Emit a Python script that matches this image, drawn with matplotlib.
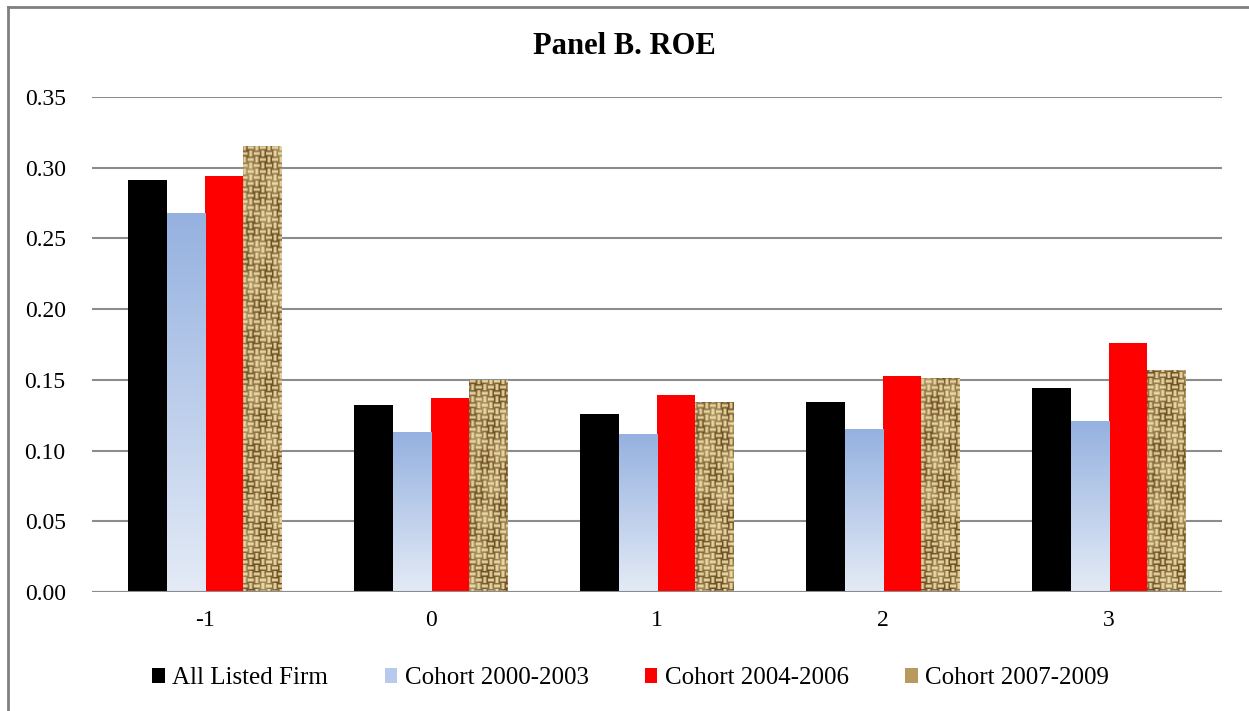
import numpy as np
import matplotlib
matplotlib.use('Agg')
import matplotlib.pyplot as plt
from matplotlib.patches import Patch
from matplotlib.lines import Line2D

# ROE by event year for each group
years = ['-1', '0', '1', '2', '3']
all_listed = [0.291, 0.132, 0.126, 0.134, 0.144]
cohort_00_03 = [0.268, 0.113, 0.112, 0.115, 0.121]
cohort_04_06 = [0.294, 0.137, 0.139, 0.153, 0.176]
cohort_07_09 = [0.315, 0.150, 0.134, 0.151, 0.157]
labels = ['All Listed Firm', 'Cohort 2000-2003', 'Cohort 2004-2006', 'Cohort 2007-2009']

plt.rcParams['font.family'] = 'Liberation Serif'

fig = plt.figure(figsize=(12.49, 7.11), dpi=100)
ax = fig.add_axes([0.0737, 0.1674, 0.9047, 0.6962])

x = np.arange(len(years))
w = 0.17
ymax = 0.35

# black and red bars are plain fills
ax.bar(x - 1.5 * w, all_listed, w, color='black', zorder=3)
ax.bar(x + 0.5 * w, cohort_04_06, w, color='#FF0000', zorder=3)

# blue bars: gradient from mid blue at the top to pale at the base
blue_bars = ax.bar(x - 0.5 * w, cohort_00_03, w, color='none', zorder=3)
top = np.array([149, 177, 224]) / 255
bot = np.array([228, 235, 246]) / 255
t = np.linspace(0, 1, 256)[:, None]
grad = (top * (1 - t) + bot * t)[:, None, :]
for b in blue_bars:
    x0, h = b.get_x(), b.get_height()
    im = ax.imshow(grad, extent=(x0, x0 + w, 0, h), aspect='auto',
                   interpolation='bilinear', zorder=3)
    im.set_clip_path(b)

# burlap-like woven texture for the last cohort
H, W = 495, 1130
n = 6
i, j = np.indices((H, W))
blk = ((i // n) + (j // n)) % 2 == 0
half = (n - 1) / 2
stripe = np.where(blk, np.abs((i % n) - half), np.abs((j % n) - half)) / half
shade = 0.5 + 0.3 * np.sin(i / 9.0 + j / 13.0) * np.cos(j / 6.0 - i / 17.0)
v = np.clip(1.05 - 0.9 * stripe * (0.5 + shade), 0, 1)[..., None]
dark = np.array([110, 80, 35]) / 255
light = np.array([245, 228, 175]) / 255
tex = dark * (1 - v) + light * v
tex_bars = ax.bar(x + 1.5 * w, cohort_07_09, w, color='none', zorder=3)
for b in tex_bars:
    im = ax.imshow(tex, extent=(-0.5, len(years) - 0.5, 0, ymax), aspect='auto',
                   interpolation='bilinear', zorder=3)
    im.set_clip_path(b)

ax.set_xlim(-0.5, len(years) - 0.5)
ax.set_ylim(0, ymax)
ax.set_yticks(np.arange(0, 0.351, 0.05))
ax.set_yticklabels([f'{v:.2f}' for v in np.arange(0, 0.351, 0.05)])
ax.set_xticks(x)
ax.set_xticklabels(years)
ax.tick_params(length=0, labelsize=17, pad=13)
ax.tick_params(axis='y', pad=19)
ax.grid(axis='y', color='#8c8c8c', linewidth=1.5, zorder=0)
for s in ax.spines.values():
    s.set_visible(False)
ax.axhline(0, color='#8c8c8c', linewidth=1.5, zorder=4)

fig.text(0.5, 0.935, 'Panel B. ROE', ha='center', va='center',
         fontsize=22, fontweight='bold')

handles = [Patch(facecolor='black'), Patch(facecolor='#B7CAEB'),
           Patch(facecolor='#FF0000'), Patch(facecolor='#B89A5E')]
fig.legend(handles, labels, loc='center', bbox_to_anchor=(0.505, 0.046), ncol=4,
           frameon=False, fontsize=18, handlelength=0.5, handleheight=0.6,
           handletextpad=0.3, columnspacing=2.25)

# border on the top and left of the chart area
fig.add_artist(Line2D([0.0064, 0.0064], [0, 0.99], color='#808080', linewidth=2))
fig.add_artist(Line2D([0.0064, 1], [0.99, 0.99], color='#808080', linewidth=2))

fig.savefig('out.png', dpi=100)
